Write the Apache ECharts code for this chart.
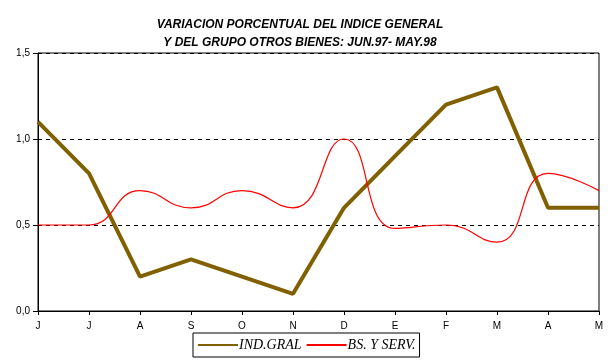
<!DOCTYPE html>
<html><head><meta charset="utf-8">
<script src="https://cdn.jsdelivr.net/npm/echarts@6/dist/echarts.min.js"></script>
<style>html,body{margin:0;padding:0;background:#fff}#c{width:611px;height:362px}</style>
</head><body><div id="c"></div>
<script>
var months = ['J','J','A','S','O','N','D','E','F','M','A','M'];
var indGral = [1.1, 0.8, 0.2, 0.3, 0.2, 0.1, 0.6, 0.9, 1.2, 1.3, 0.6, 0.6];
var bsServ = [0.5, 0.5, 0.7, 0.6, 0.7, 0.6, 1.0, 0.48, 0.5, 0.4, 0.8, 0.7];
var yTicks = [0, 0.5, 1.0, 1.5];

var chart = echarts.init(document.getElementById('c'), null, {renderer:'canvas'});
chart.setOption({
  animation:false,
  backgroundColor:'#fff',
  title:{
    text:'VARIACION PORCENTUAL DEL INDICE GENERAL\nY DEL GRUPO OTROS BIENES: JUN.97- MAY.98',
    left:295, top:11, textAlign:'center',
    textStyle:{fontFamily:'Liberation Sans, Arial', fontSize:12, fontWeight:'bold', fontStyle:'italic', color:'#000', lineHeight:18}
  },
  legend:{
    left:193, top:333, width:219, height:26,
    padding:[5,4,5,4],
    borderColor:'#000', borderWidth:1,
    itemWidth:40, itemGap:4,
    itemStyle:{opacity:0},
    textStyle:{fontFamily:'Liberation Serif, Times New Roman', fontStyle:'italic', fontSize:14, color:'#000', padding:[0,0,0,-4]},
    data:['IND.GRAL','BS. Y SERV.']
  },
  grid:{left:38, right:12, top:53, bottom:51, show:true, borderColor:'#000', borderWidth:1},
  xAxis:{
    type:'category', data:months, boundaryGap:false,
    axisLine:{lineStyle:{color:'#000', width:1}},
    axisTick:{length:4, lineStyle:{color:'#000'}},
    axisLabel:{fontFamily:'Liberation Sans, Arial', fontSize:10, color:'#000', margin:10},
    splitLine:{show:false}
  },
  yAxis:{
    type:'value', min:0, max:1.5, interval:0.5,
    axisLine:{show:true, lineStyle:{color:'#000', width:1}},
    axisTick:{show:true, length:5, lineStyle:{color:'#000'}},
    axisLabel:{fontFamily:'Liberation Sans, Arial', fontSize:10, color:'#000', margin:8,
      formatter:function(v){return v.toFixed(1).replace('.',',');}},
    splitLine:{show:true, lineStyle:{color:'#000', type:[4,4], width:1}}
  },
  series:[
    {name:'IND.GRAL', type:'line', data:indGral, symbol:'none',
     lineStyle:{color:'#806000', width:4}, itemStyle:{color:'#806000'}, z:2},
    {name:'BS. Y SERV.', type:'line', data:bsServ, symbol:'none', smooth:0.5,
     lineStyle:{color:'#ff0000', width:1.2}, itemStyle:{color:'#ff0000'}, z:3}
  ]
});
</script></body></html>
